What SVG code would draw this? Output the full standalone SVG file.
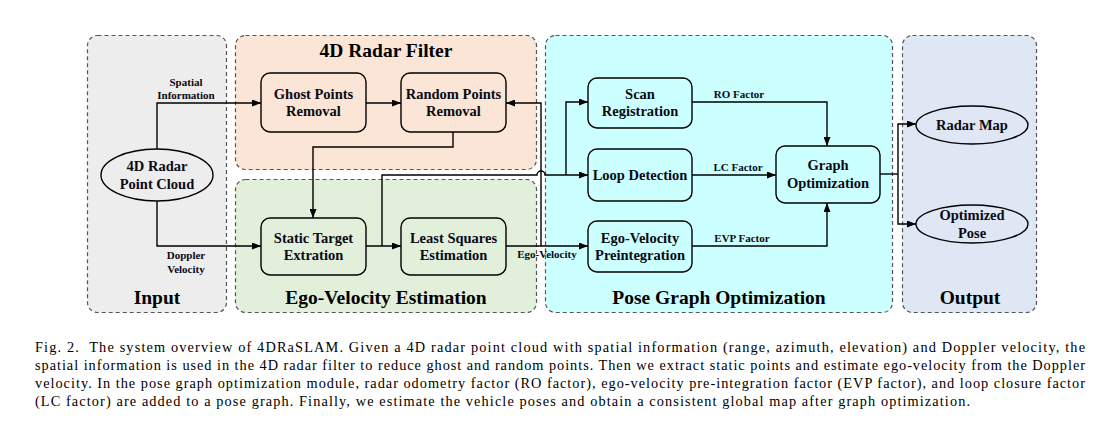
<svg xmlns="http://www.w3.org/2000/svg" width="1119" height="427" viewBox="0 0 1119 427">
<defs>
<marker id="ah" markerUnits="userSpaceOnUse" markerWidth="9" markerHeight="7" refX="9" refY="3.5" orient="auto">
<path d="M0,0 L9,3.5 L0,7 z" fill="#000"/>
</marker>
<style>
.panel{stroke:#555;stroke-width:1.2;stroke-dasharray:4,3}
.box{fill:none;stroke:#000;stroke-width:1.4}
.lbl{font-family:"Liberation Serif",serif;font-weight:bold;font-size:14.5px;fill:#0a0a14;text-anchor:middle}
.ttl{font-family:"Liberation Serif",serif;font-weight:bold;font-size:19.5px;fill:#000;text-anchor:middle}
.sm{font-family:"Liberation Serif",serif;font-weight:bold;font-size:11px;fill:#0a0a14;text-anchor:middle}
.cap{font-family:"Liberation Serif",serif;font-size:14.3px;fill:#000}
.ln{fill:none;stroke:#000;stroke-width:1.4}
.arr{marker-end:url(#ah)}
</style>
</defs>
<rect width="1119" height="427" fill="#fff"/>
<g id="panels">
<rect id="p-input" class="panel" x="87.5" y="35.5" width="139" height="277" rx="10" fill="#ededed"/>
<rect id="p-filter" class="panel" x="235.5" y="35.5" width="301" height="134" rx="10" fill="#fbe5d6"/>
<rect id="p-ego" class="panel" x="235.5" y="179.5" width="301" height="133" rx="10" fill="#e2efda"/>
<rect id="p-pgo" class="panel" x="545.5" y="35.5" width="347" height="277" rx="10" fill="#ccffff"/>
<rect id="p-out" class="panel" x="902.5" y="35.5" width="134" height="277" rx="10" fill="#dee7f3"/>
<text class="ttl" x="157" y="304">Input</text>
<text class="ttl" x="386" y="57">4D Radar Filter</text>
<text class="ttl" x="386" y="304">Ego-Velocity Estimation</text>
<text class="ttl" x="719" y="304">Pose Graph Optimization</text>
<text class="ttl" x="970" y="304">Output</text>
</g>
<g id="connectors">
<path class="ln arr" d="M157,149 V103 H261"/>
<path class="ln arr" d="M157,201 V246 H261"/>
<path class="ln arr" d="M366,103 H401"/>
<path class="ln arr" d="M453,132 V147 H313 V218"/>
<path class="ln arr" d="M366,246 H401"/>
<path class="ln arr" d="M382,246 V175 H537 A4,4 0 0 1 545,175 H588"/>
<path class="ln arr" d="M566,175 V102 H588"/>
<path class="ln arr" d="M541,246 V103 H506"/>
<path class="ln arr" d="M506,246 H588"/>
<path class="ln arr" d="M692,102 H827 V146"/>
<path class="ln arr" d="M692,175 H776"/>
<path class="ln arr" d="M692,246 H827 V203"/>
<path class="ln" d="M880,174 H898"/>
<path class="ln arr" d="M898,174 V124 H916"/>
<path class="ln arr" d="M898,174 V224 H916"/>
<text class="sm" x="186" y="86">Spatial</text>
<text class="sm" x="186" y="99">Information</text>
<text class="sm" x="186" y="259">Doppler</text>
<text class="sm" x="186" y="273">Velocity</text>
<text class="sm" x="739" y="98">RO Factor</text>
<text class="sm" x="738" y="171">LC Factor</text>
<text class="sm" x="742" y="242">EVP Factor</text>
<text class="sm" x="547" y="258">Ego-Velocity</text>
</g>
<g id="n-pointcloud">
<ellipse class="box" cx="157" cy="175" rx="56" ry="26"/>
<text class="lbl" x="157" y="171">4D Radar</text>
<text class="lbl" x="157" y="189">Point Cloud</text>
</g>
<g id="n-ghost">
<rect class="box" x="261" y="73" width="105" height="59" rx="9"/>
<text class="lbl" x="313.5" y="99">Ghost Points</text>
<text class="lbl" x="313.5" y="116">Removal</text>
</g>
<g id="n-random">
<rect class="box" x="401" y="73" width="105" height="59" rx="9"/>
<text class="lbl" x="453.5" y="99">Random Points</text>
<text class="lbl" x="453.5" y="116">Removal</text>
</g>
<g id="n-static">
<rect class="box" x="261" y="218" width="105" height="57" rx="9"/>
<text class="lbl" x="313.5" y="243">Static Target</text>
<text class="lbl" x="313.5" y="260">Extration</text>
</g>
<g id="n-lsq">
<rect class="box" x="401" y="218" width="105" height="57" rx="9"/>
<text class="lbl" x="453.5" y="243">Least Squares</text>
<text class="lbl" x="453.5" y="260">Estimation</text>
</g>
<g id="n-scan">
<rect class="box" x="588" y="78" width="104" height="50" rx="9"/>
<text class="lbl" x="640" y="99">Scan</text>
<text class="lbl" x="640" y="116">Registration</text>
</g>
<g id="n-loop">
<rect class="box" x="588" y="149" width="104" height="52" rx="9"/>
<text class="lbl" x="640" y="180">Loop Detection</text>
</g>
<g id="n-evp">
<rect class="box" x="588" y="221" width="104" height="51" rx="9"/>
<text class="lbl" x="640" y="243">Ego-Velocity</text>
<text class="lbl" x="640" y="260">Preintegration</text>
</g>
<g id="n-graph">
<rect class="box" x="776" y="146" width="104" height="57" rx="9"/>
<text class="lbl" x="828" y="170">Graph</text>
<text class="lbl" x="828" y="188">Optimization</text>
</g>
<g id="n-map">
<ellipse class="box" cx="972" cy="125" rx="56" ry="19"/>
<text class="lbl" x="972" y="130">Radar Map</text>
</g>
<g id="n-pose">
<ellipse class="box" cx="972" cy="224" rx="56" ry="19"/>
<text class="lbl" x="972" y="220">Optimized</text>
<text class="lbl" x="972" y="238">Pose</text>
</g>
<g id="caption">
<text class="cap" x="35" y="352" textLength="1050" lengthAdjust="spacing" xml:space="preserve">Fig. 2.  The system overview of 4DRaSLAM. Given a 4D radar point cloud with spatial information (range, azimuth, elevation) and Doppler velocity, the</text>
<text class="cap" x="35" y="370" textLength="1050" lengthAdjust="spacing">spatial information is used in the 4D radar filter to reduce ghost and random points. Then we extract static points and estimate ego-velocity from the Doppler</text>
<text class="cap" x="35" y="388" textLength="1050" lengthAdjust="spacing">velocity. In the pose graph optimization module, radar odometry factor (RO factor), ego-velocity pre-integration factor (EVP factor), and loop closure factor</text>
<text class="cap" x="35" y="406" textLength="935" lengthAdjust="spacing">(LC factor) are added to a pose graph. Finally, we estimate the vehicle poses and obtain a consistent global map after graph optimization.</text>
</g>
</svg>
